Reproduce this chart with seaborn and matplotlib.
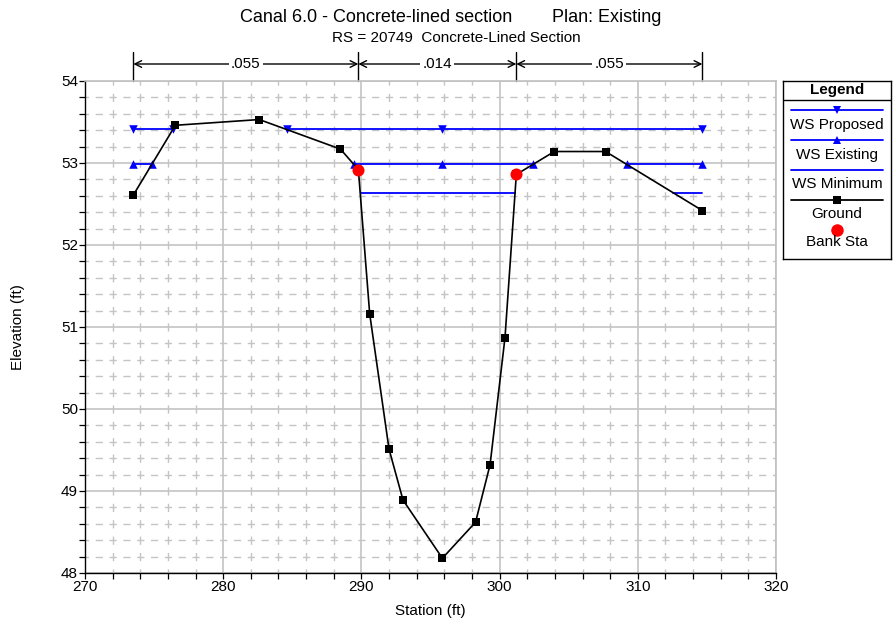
import numpy as np
import pandas as pd
import matplotlib
matplotlib.use("Agg")
import matplotlib.pyplot as plt
from matplotlib.ticker import MultipleLocator
from matplotlib.transforms import blended_transform_factory
import seaborn as sns

# ---------------- data ----------------
ground_sta = [273.5, 276.54, 282.61, 288.48, 289.78, 290.6, 292.0, 293.01, 295.86,
              298.26, 299.31, 300.39, 301.21, 303.96, 307.67, 314.67]
ground_elev = [52.61, 53.46, 53.53, 53.17, 52.92, 51.16, 49.51, 48.89, 48.18,
               48.62, 49.32, 50.87, 52.86, 53.14, 53.14, 52.42]

bank_sta = [289.78, 301.21]
bank_elev = [52.92, 52.86]

ws_prop_elev = 53.41
ws_prop_segs = [[273.5, 276.4], [284.64, 314.67]]
ws_prop_marks = [273.5, 276.4, 284.64, 295.86, 314.67]

ws_exist_elev = 52.99
ws_exist_segs = [[273.5, 274.82], [289.47, 302.44], [309.19, 314.67]]
ws_exist_marks = [273.5, 274.82, 289.47, 295.86, 302.44, 309.19, 314.67]

ws_min_elev = 52.64
ws_min_segs = [[289.95, 301.14], [312.53, 314.67]]

n_bounds = [273.5, 289.78, 301.21, 314.67]
n_values = [".055", ".014", ".055"]

title_left = "Canal 6.0 - Concrete-lined section"
title_right = "Plan: Existing"
subtitle = "RS = 20749  Concrete-Lined Section"
legend_labels = ["WS Proposed", "WS Existing", "WS Minimum", "Ground", "Bank Sta"]

# ---------------- style ----------------
sns.set_theme(style="white")
plt.rcParams["font.family"] = ["Liberation Sans", "DejaVu Sans"]
plt.rcParams["text.color"] = "black"
plt.rcParams["axes.labelcolor"] = "black"
plt.rcParams["xtick.color"] = "black"
plt.rcParams["ytick.color"] = "black"

W, H = 895, 629
fig = plt.figure(figsize=(W / 100, H / 100), dpi=100)

def fx(px):
    return px / W

def fy(py):
    return 1 - py / H

ax_l, ax_r, ax_t, ax_b = 85, 776, 81, 573
ax = fig.add_axes([fx(ax_l), fy(ax_b), (ax_r - ax_l) / W, (ax_b - ax_t) / H])

BLUE = "#0000ff"
GRID = "#c4c4c4"

def seg_frame(segs, elev):
    rows = []
    for i, (a, b) in enumerate(segs):
        rows.append({"sta": a, "elev": elev, "seg": i})
        rows.append({"sta": b, "elev": elev, "seg": i})
    return pd.DataFrame(rows)

# grid
ax.set_xlim(270, 320)
ax.set_ylim(48, 54)
ax.xaxis.set_major_locator(MultipleLocator(10))
ax.xaxis.set_minor_locator(MultipleLocator(2))
ax.yaxis.set_major_locator(MultipleLocator(1))
ax.yaxis.set_minor_locator(MultipleLocator(0.2))
PT = 0.72  # points per pixel
ax.xaxis.grid(True, which="minor", color=GRID, lw=1.0,
              linestyle=(4.1 * PT, (8.2 * PT, 8.2 * PT)))
ax.yaxis.grid(True, which="minor", color=GRID, lw=1.0,
              linestyle=(3.6 * PT, (7.2 * PT, 6.62 * PT)))
ax.grid(which="major", color=GRID, lw=1.2, linestyle="-")
ax.set_axisbelow(True)

# WS lines
for segs, elev in [(ws_prop_segs, ws_prop_elev), (ws_exist_segs, ws_exist_elev),
                   (ws_min_segs, ws_min_elev)]:
    df = seg_frame(segs, elev)
    sns.lineplot(data=df, x="sta", y="elev", units="seg", estimator=None,
                 color=BLUE, lw=1.3, ax=ax, legend=False)

sns.scatterplot(x=ws_prop_marks, y=[ws_prop_elev] * len(ws_prop_marks), marker="v",
                color=BLUE, s=38, edgecolor=BLUE, linewidth=0, ax=ax, zorder=4)
sns.scatterplot(x=ws_exist_marks, y=[ws_exist_elev] * len(ws_exist_marks), marker="^",
                color=BLUE, s=38, edgecolor=BLUE, linewidth=0, ax=ax, zorder=4)

# ground
gdf = pd.DataFrame({"sta": ground_sta, "elev": ground_elev})
sns.lineplot(data=gdf, x="sta", y="elev", sort=False, estimator=None, color="black",
             lw=1.2, ax=ax, legend=False, zorder=5)
sns.scatterplot(data=gdf, x="sta", y="elev", marker="s", color="black", s=36,
                edgecolor="black", linewidth=0, ax=ax, zorder=6)

# bank stations
sns.scatterplot(x=bank_sta, y=bank_elev, marker="o", color="red", s=75,
                edgecolor="red", linewidth=0, ax=ax, zorder=7)

# axes styling
for side in ["top", "right"]:
    ax.spines[side].set_color("#c0c0c0")
    ax.spines[side].set_linewidth(1.2)
for side in ["left", "bottom"]:
    ax.spines[side].set_color("black")
    ax.spines[side].set_linewidth(1.0)
ax.tick_params(which="both", direction="out", length=4, width=0.9, color="black",
               left=True, bottom=True, labelsize=11, pad=1, labelcolor="black")
ax.set_xlabel("")
ax.set_ylabel("")

# Manning's n annotations
tr = blended_transform_factory(ax.transData, ax.transAxes)
top_frac = 1 + (ax_t - 52) / (ax_b - ax_t)
arr_frac = 1 + (ax_t - 64) / (ax_b - ax_t)
for s in n_bounds:
    ax.plot([s, s], [1.0, top_frac], transform=tr, color="black", lw=1.0, clip_on=False)
for i, lab in enumerate(n_values):
    a, b = n_bounds[i], n_bounds[i + 1]
    ax.annotate("", xy=(a, arr_frac), xytext=(b, arr_frac), xycoords=tr, textcoords=tr,
                arrowprops=dict(arrowstyle="<->", color="black", lw=1.0,
                                shrinkA=0, shrinkB=0, mutation_scale=12),
                annotation_clip=False)
    ax.text((a + b) / 2, arr_frac, lab, transform=tr, ha="center", va="center",
            fontsize=11, bbox=dict(facecolor="white", edgecolor="none", pad=1.5),
            clip_on=False)

# titles and labels
fig.text(fx(240), fy(17), title_left, ha="left", va="center", fontsize=13)
fig.text(fx(552), fy(17), title_right, ha="left", va="center", fontsize=13)
fig.text(fx(456), fy(38), subtitle, ha="center", va="center", fontsize=11)
fig.text(fx(18), fy(327), "Elevation (ft)", rotation=90, ha="center", va="center",
         fontsize=11)
fig.text(fx(430), fy(611), "Station (ft)", ha="center", va="center", fontsize=11)

# legend box
lx0, lx1, ly0, ly1 = 783, 891, 81, 259
lax = fig.add_axes([fx(lx0), fy(ly1), (lx1 - lx0) / W, (ly1 - ly0) / H])
lax.set_xlim(lx0, lx1)
lax.set_ylim(ly1, ly0)
lax.set_xticks([])
lax.set_yticks([])
for sp in lax.spines.values():
    sp.set_color("black")
    sp.set_linewidth(1.0)
lax.set_facecolor("white")
lax.text((lx0 + lx1) / 2, 90, "Legend", ha="center", va="center", fontsize=11,
         fontweight="bold")
lax.plot([lx0, lx1], [99.5, 99.5], color="black", lw=1.0)
cx = 837.5
lx_a, lx_b = 791.5, 883
entries = [
    (109.5, BLUE, "v", 124.5),
    (140, BLUE, "^", 154.5),
    (170, BLUE, None, 183.5),
    (200, "black", "s", 213.5),
    (229.5, None, "o", 242.5),
]
for (ly, col, mk, ty), lab in zip(entries, legend_labels):
    if col is not None:
        lax.plot([lx_a, lx_b], [ly, ly], color=col, lw=1.3)
    if mk is not None:
        mc = "red" if col is None else col
        ms = 9 if mk == "o" else 6
        lax.plot([cx], [ly], marker=mk, color=mc, markersize=ms, markeredgewidth=0,
                 linestyle="none")
    lax.text((lx0 + lx1) / 2, ty, lab, ha="center", va="center", fontsize=11)

fig.savefig("out.png", dpi=100)
